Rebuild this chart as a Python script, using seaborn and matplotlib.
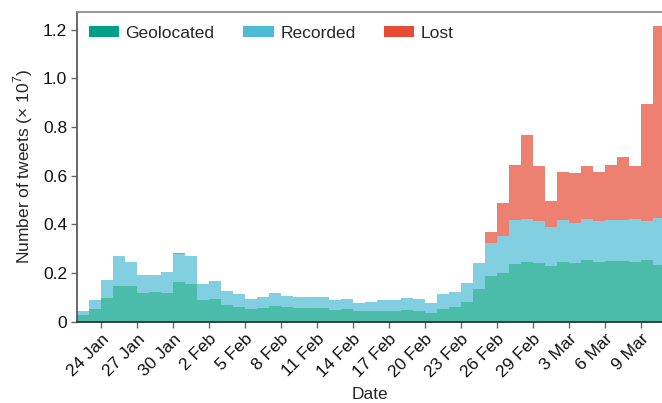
import pandas as pd
import matplotlib
matplotlib.use("Agg")
import matplotlib.pyplot as plt
import matplotlib.dates as mdates
from matplotlib.patches import Patch
import seaborn as sns

# ================= DATA (x 10^7 tweets per day) =================
START_DAY = "2020-01-22"
N_DAYS = 49

# thickness of each stacked layer, one value per day (22 Jan .. 10 Mar)
geolocated = [0.029, 0.053, 0.097, 0.147, 0.148, 0.119, 0.122, 0.116, 0.164, 0.155,
              0.088, 0.092, 0.069, 0.062, 0.053, 0.058, 0.066, 0.059, 0.055, 0.056,
              0.056, 0.048, 0.052, 0.043, 0.042, 0.045, 0.043, 0.049, 0.044, 0.034,
              0.053, 0.059, 0.080, 0.136, 0.186, 0.199, 0.237, 0.244, 0.240, 0.230,
              0.245, 0.240, 0.253, 0.246, 0.248, 0.248, 0.245, 0.253, 0.233]
recorded = [0.015, 0.035, 0.075, 0.121, 0.097, 0.073, 0.070, 0.087, 0.115, 0.115,
            0.066, 0.075, 0.056, 0.052, 0.042, 0.045, 0.052, 0.047, 0.046, 0.047,
            0.045, 0.040, 0.041, 0.034, 0.041, 0.044, 0.045, 0.047, 0.049, 0.043,
            0.061, 0.064, 0.078, 0.104, 0.138, 0.153, 0.181, 0.176, 0.175, 0.160,
            0.173, 0.167, 0.169, 0.169, 0.170, 0.170, 0.175, 0.159, 0.192]
lost = [0.0, 0.0, 0.0, 0.0, 0.0, 0.0, 0.0, 0.0, 0.004, 0.0,
        0.0, 0.0, 0.0, 0.0, 0.0, 0.0, 0.0, 0.0, 0.0, 0.0,
        0.0, 0.0, 0.0, 0.0, 0.0, 0.0, 0.0, 0.0, 0.0, 0.0,
        0.0, 0.0, 0.0, 0.0, 0.043, 0.134, 0.226, 0.346, 0.226, 0.107,
        0.196, 0.204, 0.219, 0.201, 0.226, 0.257, 0.218, 0.483, 0.789]

CATEGORIES = ["Geolocated", "Recorded", "Lost"]
COLORS = {"Geolocated": "#00A087", "Recorded": "#4DBBD5", "Lost": "#E64B35"}
Y_TICKS = [0, 0.2, 0.4, 0.6, 0.8, 1.0, 1.2]
Y_TICK_LABELS = ["0", "0.2", "0.4", "0.6", "0.8", "1.0", "1.2"]
FS = 12.5


def make_plot():
    days = pd.date_range(START_DAY, periods=N_DAYS, freq="D")
    edges = list(mdates.date2num(pd.date_range(START_DAY, periods=N_DAYS + 1, freq="D")))
    mids = mdates.date2num(days + pd.Timedelta(hours=12))

    # long-form table for histplot
    frames = []
    for name, vals in zip(CATEGORIES, [geolocated, recorded, lost]):
        frames.append(pd.DataFrame({"day": mids, "count": vals, "category": name}))
    df = pd.concat(frames, ignore_index=True)

    sns.set_theme(style="ticks")
    plt.rcParams["font.family"] = ["Liberation Sans", "DejaVu Sans"]
    plt.rcParams["mathtext.fontset"] = "custom"
    plt.rcParams["mathtext.rm"] = "Liberation Sans"

    fig = plt.figure(figsize=(6.62, 4.03), dpi=100)
    ax = fig.add_axes([0.1163, 0.2017, 0.8837, 0.7685])

    # seaborn stacks the last hue level at the bottom
    sns.histplot(data=df, x="day", weights="count", hue="category",
                 hue_order=["Lost", "Recorded", "Geolocated"], palette=COLORS,
                 bins=edges, multiple="stack", element="step", alpha=0.7,
                 linewidth=0, legend=False, ax=ax)

    # axes limits
    ax.set_xlim(edges[0], edges[-1] - 0.25)
    ax.set_ylim(0, 1.272)

    # x ticks every 3 days from 24 Jan
    tick_days = pd.date_range("2020-01-24", "2020-03-09", freq="3D")
    ax.set_xticks(mdates.date2num(tick_days))
    ax.set_xticklabels([f"{d.day} {d.strftime('%b')}" for d in tick_days],
                       rotation=45, ha="right", rotation_mode="anchor", fontsize=FS)
    ax.set_yticks(Y_TICKS)
    ax.set_yticklabels(Y_TICK_LABELS, fontsize=FS)
    ax.tick_params(axis="both", direction="out", length=4, width=1, color="#666666",
                   labelcolor="#111111", pad=3)

    ax.set_xlabel("Date", fontsize=FS, labelpad=5)
    ax.set_ylabel("Number of tweets (× 10$^7$)", fontsize=FS, labelpad=6)

    # spines
    ax.spines["right"].set_visible(False)
    ax.spines["top"].set_visible(True)
    ax.spines["top"].set_color("#888888")
    ax.spines["top"].set_linewidth(1.2)
    ax.spines["left"].set_color("#555555")
    ax.spines["bottom"].set_color("#333333")
    ax.spines["bottom"].set_linewidth(1.3)

    # legend with opaque patches
    handles = [Patch(facecolor=COLORS[c], edgecolor="none", label=c) for c in CATEGORIES]
    ax.legend(handles=handles, loc="upper left", ncol=3, frameon=False, fontsize=FS,
              handlelength=1.75, handleheight=0.58, handletextpad=0.38,
              columnspacing=1.65, bbox_to_anchor=(-0.004, 1.0), borderaxespad=0.4)

    fig.savefig("out.png", dpi=100)


if __name__ == "__main__":
    make_plot()
